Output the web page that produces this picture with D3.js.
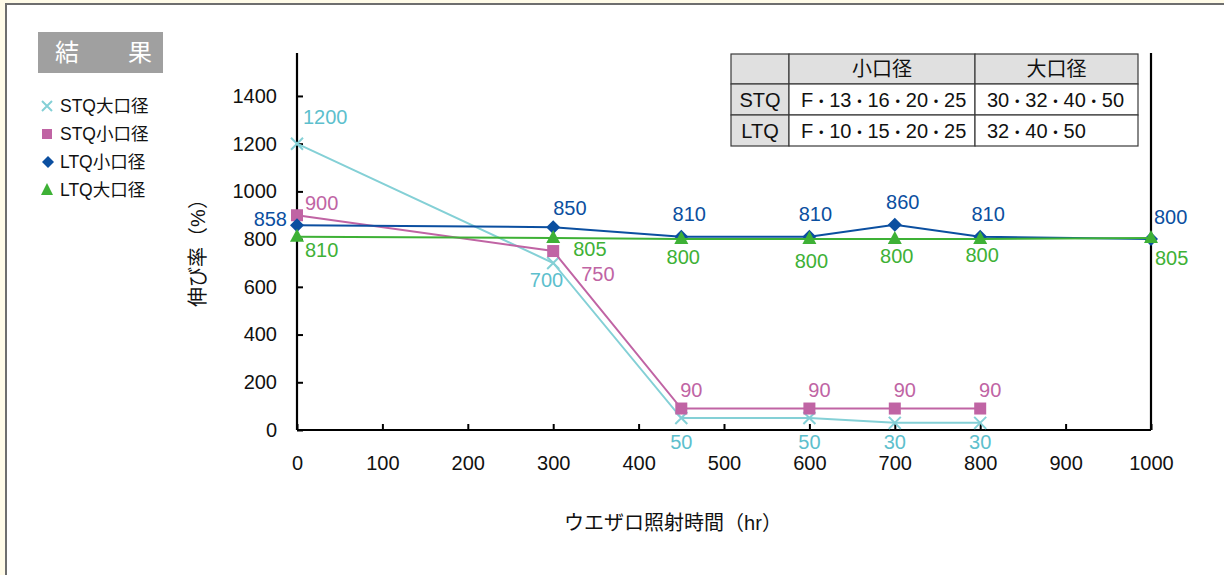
<!DOCTYPE html>
<html><head><meta charset="utf-8">
<script src="https://cdn.jsdelivr.net/npm/d3@7"></script>
<style>
html,body{margin:0;padding:0;background:#fffbe8;}
svg{display:block;}
text{font-family:"Liberation Sans","Noto Sans CJK JP",sans-serif;}
</style></head>
<body>
<svg id="c" width="1224" height="575"></svg>
<script>
// ---- data ----
const hours = [0, 300, 450, 600, 700, 800, 1000];
const seriesNames = ["STQ大口径", "STQ小口径", "LTQ小口径", "LTQ大口径"];
const stqLarge = [1200, 700, 50, 50, 30, 30, null];
const stqSmall = [900, 750, 90, 90, 90, 90, null];
const ltqSmall = [858, 850, 810, 810, 860, 810, 800];
const ltqLarge = [810, 805, 800, 800, 800, 800, 805];
const xTicks = [0, 100, 200, 300, 400, 500, 600, 700, 800, 900, 1000];
const yTicks = [0, 200, 400, 600, 800, 1000, 1200, 1400];
const tableHeader = ["", "小口径", "大口径"];
const tableRows = [["STQ", "F・13・16・20・25", "30・32・40・50"],
                   ["LTQ", "F・10・15・20・25", "32・40・50"]];
const titleText = ["結", "果"];
const xTitle = "ウエザロ照射時間（hr）";
const yTitle = "伸び率（%）";

// ---- drawing ----
const svg = d3.select("#c");
svg.append("rect").attr("x", 6).attr("y", 4).attr("width", 1240).attr("height", 600)
  .attr("fill", "#fff").attr("stroke", "#6e6e6e").attr("stroke-width", 2);

const x = d3.scaleLinear().domain([0, 1000]).range([297, 1151]);
const y = d3.scaleLinear().domain([0, 1580]).range([430, 53]);

// title box
svg.append("rect").attr("x", 38).attr("y", 32).attr("width", 125).attr("height", 41).attr("fill", "#a0a0a0");
svg.append("text").attr("x", 67).attr("y", 61).attr("text-anchor", "middle").attr("fill", "#fff")
  .attr("font-size", 24).text(titleText[0]);
svg.append("text").attr("x", 140).attr("y", 61).attr("text-anchor", "middle").attr("fill", "#fff")
  .attr("font-size", 24).text(titleText[1]);

// axes
const gy = svg.append("g").attr("transform", "translate(297,0)")
  .call(d3.axisLeft(y).tickValues(yTicks).tickSize(-6).tickPadding(20).tickFormat(d3.format("d")));
const gx = svg.append("g").attr("transform", "translate(0,430)")
  .call(d3.axisBottom(x).tickValues(xTicks).tickSize(-6).tickPadding(26).tickFormat(d3.format("d")));
[gy, gx].forEach(g => {
  g.select(".domain").attr("stroke", "#000").attr("stroke-width", 2.2);
  g.selectAll(".tick line").attr("stroke", "#000").attr("stroke-width", 2);
  g.selectAll(".tick text").attr("font-size", 20).attr("fill", "#111")
    .attr("font-family", "'Liberation Sans',sans-serif");
});
gy.select(".domain").attr("d", `M0,${y(1580)}V${y(0)}`);
gx.select(".domain").attr("d", `M${x(0)},0H${x(1000)}`);
svg.append("line").attr("x1", x(1000)).attr("x2", x(1000)).attr("y1", y(1580)).attr("y2", y(0))
  .attr("stroke", "#000").attr("stroke-width", 2.2);

// axis titles
svg.append("text").attr("transform", `translate(205,248) rotate(-90)`).attr("text-anchor", "middle")
  .attr("font-size", 20).attr("fill", "#111").text(yTitle);
svg.append("text").attr("x", 673).attr("y", 530).attr("text-anchor", "middle")
  .attr("font-size", 20).attr("fill", "#111").text(xTitle);

// series config
const series = [
  {name: seriesNames[0], vals: stqLarge, line: "#84d0d6", lab: "#5dbfcd", mark: "cross"},
  {name: seriesNames[1], vals: stqSmall, line: "#c064a4", lab: "#c064a4", mark: "square"},
  {name: seriesNames[2], vals: ltqSmall, line: "#0b4fa0", lab: "#0b4fa0", mark: "diamond"},
  {name: seriesNames[3], vals: ltqLarge, line: "#3eb136", lab: "#3eb136", mark: "triangle"}
];
// label placements [dx, dy, anchor]
const place = [
  [[6,-20,"start"],[10,24,"end"],[0,31,"middle"],[0,31,"middle"],[0,26,"middle"],[0,26,"middle"]],
  [[8,-5,"start"],[28,30,"start"],[10,-12,"middle"],[10,-12,"middle"],[10,-12,"middle"],[10,-12,"middle"]],
  [[-10,1,"end"],[0,-12,"start"],[8,-16,"middle"],[6,-16,"middle"],[8,-16,"middle"],[8,-16,"middle"],[3,-15,"start"]],
  [[8,20,"start"],[20,18,"start"],[2,25,"middle"],[2,29,"middle"],[2,24,"middle"],[2,23,"middle"],[4,27,"start"]]
];

function drawMarker(g, type, cx, cy, color) {
  if (type === "cross") {
    const s = 6;
    g.append("path").attr("d", `M${cx-s},${cy-s}L${cx+s},${cy+s}M${cx-s},${cy+s}L${cx+s},${cy-s}`)
      .attr("stroke", color).attr("stroke-width", 2).attr("fill", "none");
  } else if (type === "square") {
    g.append("rect").attr("x", cx-6).attr("y", cy-6).attr("width", 12).attr("height", 12).attr("fill", color);
  } else if (type === "diamond") {
    g.append("path").attr("d", `M${cx},${cy-7}L${cx+7},${cy}L${cx},${cy+7}L${cx-7},${cy}Z`).attr("fill", color);
  } else {
    g.append("path").attr("d", `M${cx},${cy-8}L${cx+7},${cy+5}L${cx-7},${cy+5}Z`).attr("fill", color);
  }
}

const lineGen = d3.line().defined(d => d.v != null).x(d => x(d.h)).y(d => y(d.v));
series.forEach((s, si) => {
  const pts = hours.map((h, i) => ({h, v: s.vals[i]})).filter(d => d.v != null);
  const g = svg.append("g");
  g.append("path").datum(pts).attr("d", lineGen).attr("fill", "none")
    .attr("stroke", s.line).attr("stroke-width", 2);
  pts.forEach(d => drawMarker(g, s.mark, x(d.h), y(d.v), s.line));
  pts.forEach((d, i) => {
    const p = place[si][i];
    g.append("text").attr("x", x(d.h) + p[0]).attr("y", y(d.v) + p[1]).attr("text-anchor", p[2])
      .attr("font-size", 20).attr("fill", s.lab).text(d.v);
  });
});

// legend
series.forEach((s, i) => {
  const ly = 106 + i * 28;
  const g = svg.append("g");
  const mcol = s.mark === "cross" ? "#84d0d6" : s.line;
  if (s.mark === "cross") {
    g.append("path").attr("d", `M42,${ly-5}L52,${ly+5}M42,${ly+5}L52,${ly-5}`).attr("stroke", mcol).attr("stroke-width", 2);
  } else if (s.mark === "square") {
    g.append("rect").attr("x", 42).attr("y", ly-5).attr("width", 10).attr("height", 10).attr("fill", mcol);
  } else if (s.mark === "diamond") {
    g.append("path").attr("d", `M48,${ly-6}L54,${ly}L48,${ly+6}L42,${ly}Z`).attr("fill", mcol);
  } else {
    g.append("path").attr("d", `M47,${ly-7}L53,${ly+5}L41,${ly+5}Z`).attr("fill", mcol);
  }
  g.append("text").attr("x", 60).attr("y", ly + 6).attr("font-size", 17.5).attr("fill", "#111").text(s.name);
});

// table
const colX = [731, 789, 975, 1138];
const rowY = [54, 84, 115, 146];
const tg = svg.append("g");
const allRows = [tableHeader].concat(tableRows);
allRows.forEach((row, r) => {
  row.forEach((cell, c) => {
    const gray = r === 0 || c === 0;
    tg.append("rect").attr("x", colX[c]).attr("y", rowY[r])
      .attr("width", colX[c+1]-colX[c]).attr("height", rowY[r+1]-rowY[r])
      .attr("fill", gray ? "#e0e0e0" : "#fff").attr("stroke", "#3a3a3a").attr("stroke-width", 1.2);
    const centered = r === 0 || c === 0;
    const cx = centered ? (colX[c]+colX[c+1])/2 : colX[c] + 12;
    const t = tg.append("text").attr("x", cx).attr("y", (rowY[r]+rowY[r+1])/2 + 7)
      .attr("text-anchor", centered ? "middle" : "start")
      .attr("font-size", 20).attr("fill", "#111");
    if (centered) { t.text(cell); return; }
    // render the middle dots narrower, as in the reference
    cell.split(/(・)/).filter(p => p !== "").forEach(p => {
      t.append("tspan").attr("font-size", p === "・" ? 16 : 20).text(p);
    });
  });
});
</script>
</body></html>
